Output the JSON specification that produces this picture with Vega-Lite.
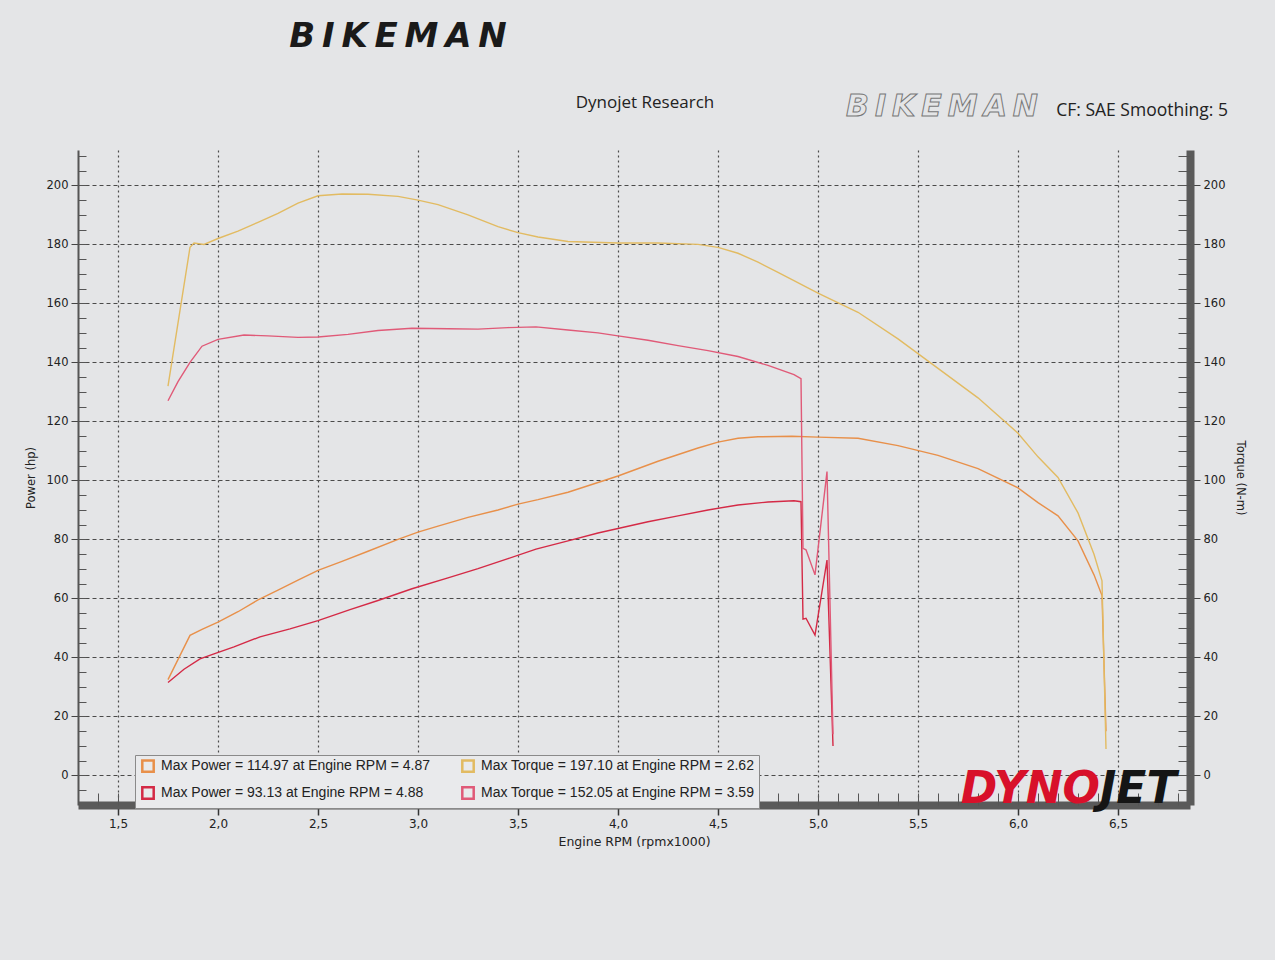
{
  "$schema": "https://vega.github.io/schema/vega-lite/v6.json",
  "width": 1112,
  "height": 655,
  "autosize": {"type": "none"},
  "padding": {"left": 78, "top": 150, "right": 85, "bottom": 155},
  "background": "#e4e5e7",
  "config": {
    "view": {"stroke": null},
    "axis": {"labelFont": "DejaVu Sans", "titleFont": "DejaVu Sans", "labelColor": "#222", "titleColor": "#222", "titleFontWeight": "normal", "grid": false},
    "legend": {"labelFont": "Liberation Sans", "labelFontSize": 14, "labelColor": "#222", "labelLimit": 0}
  },
  "data": {"values": [
    {"rpm":1.75,"v":32.5,"k":"P1"},{"rpm":1.86,"v":47.5,"k":"P1"},{"rpm":1.92,"v":49.5,"k":"P1"},{"rpm":2.0,"v":52,"k":"P1"},{"rpm":2.1,"v":55.5,"k":"P1"},{"rpm":2.2,"v":59.5,"k":"P1"},{"rpm":2.3,"v":62.8,"k":"P1"},{"rpm":2.4,"v":66.2,"k":"P1"},{"rpm":2.5,"v":69.5,"k":"P1"},{"rpm":2.62,"v":72.6,"k":"P1"},{"rpm":2.75,"v":76,"k":"P1"},{"rpm":2.9,"v":80,"k":"P1"},{"rpm":3.0,"v":82.5,"k":"P1"},{"rpm":3.1,"v":84.5,"k":"P1"},{"rpm":3.25,"v":87.5,"k":"P1"},{"rpm":3.4,"v":90,"k":"P1"},{"rpm":3.5,"v":92,"k":"P1"},{"rpm":3.6,"v":93.5,"k":"P1"},{"rpm":3.75,"v":96,"k":"P1"},{"rpm":4.0,"v":101.5,"k":"P1"},{"rpm":4.2,"v":106.5,"k":"P1"},{"rpm":4.4,"v":111,"k":"P1"},{"rpm":4.5,"v":113,"k":"P1"},{"rpm":4.6,"v":114.3,"k":"P1"},{"rpm":4.7,"v":114.8,"k":"P1"},{"rpm":4.8,"v":114.9,"k":"P1"},{"rpm":4.87,"v":114.97,"k":"P1"},{"rpm":5.0,"v":114.7,"k":"P1"},{"rpm":5.2,"v":114.3,"k":"P1"},{"rpm":5.4,"v":111.8,"k":"P1"},{"rpm":5.6,"v":108.5,"k":"P1"},{"rpm":5.8,"v":104,"k":"P1"},{"rpm":6.0,"v":97.5,"k":"P1"},{"rpm":6.1,"v":92.5,"k":"P1"},{"rpm":6.2,"v":88,"k":"P1"},{"rpm":6.3,"v":79.5,"k":"P1"},{"rpm":6.38,"v":68,"k":"P1"},{"rpm":6.42,"v":61,"k":"P1"},{"rpm":6.44,"v":15,"k":"P1"},
    {"rpm":1.75,"v":132,"k":"T1"},{"rpm":1.86,"v":179,"k":"T1"},{"rpm":1.88,"v":180.5,"k":"T1"},{"rpm":1.93,"v":180,"k":"T1"},{"rpm":2.0,"v":182,"k":"T1"},{"rpm":2.1,"v":184.5,"k":"T1"},{"rpm":2.2,"v":187.5,"k":"T1"},{"rpm":2.3,"v":190.5,"k":"T1"},{"rpm":2.4,"v":194,"k":"T1"},{"rpm":2.5,"v":196.5,"k":"T1"},{"rpm":2.62,"v":197.1,"k":"T1"},{"rpm":2.75,"v":197,"k":"T1"},{"rpm":2.9,"v":196.3,"k":"T1"},{"rpm":3.0,"v":195,"k":"T1"},{"rpm":3.1,"v":193.5,"k":"T1"},{"rpm":3.25,"v":190,"k":"T1"},{"rpm":3.4,"v":186,"k":"T1"},{"rpm":3.5,"v":184,"k":"T1"},{"rpm":3.6,"v":182.5,"k":"T1"},{"rpm":3.75,"v":181,"k":"T1"},{"rpm":4.0,"v":180.5,"k":"T1"},{"rpm":4.2,"v":180.5,"k":"T1"},{"rpm":4.4,"v":180,"k":"T1"},{"rpm":4.5,"v":179,"k":"T1"},{"rpm":4.6,"v":177,"k":"T1"},{"rpm":4.7,"v":174,"k":"T1"},{"rpm":4.8,"v":170.5,"k":"T1"},{"rpm":4.87,"v":168.1,"k":"T1"},{"rpm":5.0,"v":163.5,"k":"T1"},{"rpm":5.2,"v":157,"k":"T1"},{"rpm":5.4,"v":148,"k":"T1"},{"rpm":5.6,"v":138,"k":"T1"},{"rpm":5.8,"v":128,"k":"T1"},{"rpm":6.0,"v":116,"k":"T1"},{"rpm":6.1,"v":108,"k":"T1"},{"rpm":6.2,"v":101,"k":"T1"},{"rpm":6.3,"v":89,"k":"T1"},{"rpm":6.38,"v":75,"k":"T1"},{"rpm":6.42,"v":66,"k":"T1"},{"rpm":6.44,"v":9,"k":"T1"},
    {"rpm":1.75,"v":31.5,"k":"P2"},{"rpm":1.83,"v":36,"k":"P2"},{"rpm":1.91,"v":39.5,"k":"P2"},{"rpm":1.98,"v":41.2,"k":"P2"},{"rpm":2.08,"v":43.6,"k":"P2"},{"rpm":2.21,"v":47,"k":"P2"},{"rpm":2.36,"v":49.7,"k":"P2"},{"rpm":2.5,"v":52.5,"k":"P2"},{"rpm":2.66,"v":56.2,"k":"P2"},{"rpm":2.8,"v":59.3,"k":"P2"},{"rpm":2.97,"v":63.3,"k":"P2"},{"rpm":3.15,"v":67,"k":"P2"},{"rpm":3.3,"v":70.1,"k":"P2"},{"rpm":3.45,"v":73.5,"k":"P2"},{"rpm":3.59,"v":76.7,"k":"P2"},{"rpm":3.75,"v":79.5,"k":"P2"},{"rpm":3.9,"v":82.2,"k":"P2"},{"rpm":4.0,"v":83.7,"k":"P2"},{"rpm":4.15,"v":86,"k":"P2"},{"rpm":4.3,"v":88,"k":"P2"},{"rpm":4.45,"v":90,"k":"P2"},{"rpm":4.6,"v":91.7,"k":"P2"},{"rpm":4.75,"v":92.7,"k":"P2"},{"rpm":4.88,"v":93.13,"k":"P2"},{"rpm":4.915,"v":92.8,"k":"P2"},{"rpm":4.925,"v":53,"k":"P2"},{"rpm":4.94,"v":53.3,"k":"P2"},{"rpm":4.985,"v":47.6,"k":"P2"},{"rpm":5.045,"v":73,"k":"P2"},{"rpm":5.075,"v":10,"k":"P2"},
    {"rpm":1.75,"v":127,"k":"T2"},{"rpm":1.8,"v":133.5,"k":"T2"},{"rpm":1.86,"v":140,"k":"T2"},{"rpm":1.92,"v":145.5,"k":"T2"},{"rpm":2.0,"v":147.8,"k":"T2"},{"rpm":2.13,"v":149.3,"k":"T2"},{"rpm":2.25,"v":149,"k":"T2"},{"rpm":2.4,"v":148.5,"k":"T2"},{"rpm":2.5,"v":148.6,"k":"T2"},{"rpm":2.65,"v":149.5,"k":"T2"},{"rpm":2.8,"v":150.8,"k":"T2"},{"rpm":2.97,"v":151.6,"k":"T2"},{"rpm":3.15,"v":151.4,"k":"T2"},{"rpm":3.3,"v":151.3,"k":"T2"},{"rpm":3.45,"v":151.8,"k":"T2"},{"rpm":3.59,"v":152.05,"k":"T2"},{"rpm":3.75,"v":151,"k":"T2"},{"rpm":3.9,"v":150,"k":"T2"},{"rpm":4.0,"v":149,"k":"T2"},{"rpm":4.15,"v":147.5,"k":"T2"},{"rpm":4.3,"v":145.7,"k":"T2"},{"rpm":4.45,"v":144,"k":"T2"},{"rpm":4.6,"v":142,"k":"T2"},{"rpm":4.75,"v":139,"k":"T2"},{"rpm":4.88,"v":135.9,"k":"T2"},{"rpm":4.915,"v":134.5,"k":"T2"},{"rpm":4.925,"v":77,"k":"T2"},{"rpm":4.94,"v":76.5,"k":"T2"},{"rpm":4.985,"v":68,"k":"T2"},{"rpm":5.045,"v":103,"k":"T2"},{"rpm":5.075,"v":14,"k":"T2"}
  ]},
  "resolve": {"scale": {"y": "independent"}, "axis": {"x": "independent", "y": "independent"}},
  "layer": [
    {
      "transform": [{"filter": {"field": "k", "oneOf": ["P1", "P2"]}}],
      "mark": {"type": "line", "strokeWidth": 1.4},
      "encoding": {
        "x": {"field": "rpm", "type": "quantitative", "scale": {"domain": [1.3, 6.86], "nice": false, "zero": false},
          "axis": {"orient": "bottom", "values": [1.5, 2, 2.5, 3, 3.5, 4, 4.5, 5, 5.5, 6, 6.5], "labelExpr": "replace(format(datum.value, '.1f'), '.', ',')", "title": "Engine RPM (rpmx1000)", "grid": true, "gridDash": [2, 3], "gridColor": "#4a4a4a", "gridWidth": 1.2, "domainColor": "#5a5a5a", "domainWidth": 8, "tickColor": "#333", "tickSize": 10, "tickWidth": 1.5, "labelPadding": 3, "labelFontSize": 12, "titleFontSize": 12.5, "titlePadding": 6}},
        "y": {"field": "v", "type": "quantitative", "scale": {"domain": [-10, 212], "nice": false, "zero": false},
          "axis": {"orient": "left", "values": [0, 20, 40, 60, 80, 100, 120, 140, 160, 180, 200], "title": "Power (hp)", "grid": true, "gridDash": [4, 3], "gridColor": "#4a4a4a", "gridWidth": 1.2, "domainColor": "#555", "domainWidth": 2, "tickColor": "#444", "tickSize": 7, "labelPadding": 3, "labelFontSize": 11.5, "titleFontSize": 11.5, "titlePadding": 10}},
        "color": {"field": "k", "type": "nominal",
          "scale": {"domain": ["P1", "T1", "P2", "T2"], "range": ["#e8904a", "#e2bb62", "#d42a46", "#e05a78"]},
          "legend": {"title": null, "orient": "none", "legendX": 57, "legendY": 605, "direction": "horizontal", "columns": 2, "columnPadding": 26, "rowPadding": 5, "symbolType": "square", "symbolSize": 130, "symbolStrokeWidth": 2.5, "symbolOffset": 2, "labelOffset": 6, "labelLimit": 0, "fillColor": "#e9eaec", "strokeColor": "#8a8a8a", "padding": 4,
            "labelExpr": "datum.label == 'P1' ? 'Max Power = 114.97 at Engine RPM = 4.87' : datum.label == 'T1' ? 'Max Torque = 197.10 at Engine RPM = 2.62' : datum.label == 'P2' ? 'Max Power = 93.13 at Engine RPM = 4.88' : 'Max Torque = 152.05 at Engine RPM = 3.59'"}}
      }
    },
    {
      "transform": [{"filter": {"field": "k", "oneOf": ["T1", "T2"]}}],
      "mark": {"type": "line", "strokeWidth": 1.4},
      "encoding": {
        "x": {"field": "rpm", "type": "quantitative", "scale": {"domain": [1.3, 6.86], "nice": false, "zero": false}, "axis": null},
        "y": {"field": "v", "type": "quantitative", "scale": {"domain": [-10, 212], "nice": false, "zero": false},
          "axis": {"orient": "right", "values": [0, 20, 40, 60, 80, 100, 120, 140, 160, 180, 200], "title": "Torque (N-m)", "grid": false, "domainColor": "#5a5a5a", "domainWidth": 8, "tickColor": "#444", "tickSize": 10, "labelPadding": 3, "labelFontSize": 11.5, "titleFontSize": 11.5, "titlePadding": 10}},
        "color": {"field": "k", "type": "nominal"}
      }
    },
    {
      "data": {"values": [{}]},
      "mark": {"type": "text", "text": "Dynojet Research", "font": "Open Sans", "fontSize": 17, "color": "#222", "align": "center", "baseline": "middle"},
      "encoding": {
        "x": {"datum": 4.135, "type": "quantitative", "scale": {"domain": [1.3, 6.86], "nice": false, "zero": false},
          "axis": {"orient": "bottom", "values": [1.4,1.5,1.6,1.7,1.8,1.9,2.0,2.1,2.2,2.3,2.4,2.5,2.6,2.7,2.8,2.9,3.0,3.1,3.2,3.3,3.4,3.5,3.6,3.7,3.8,3.9,4.0,4.1,4.2,4.3,4.4,4.5,4.6,4.7,4.8,4.9,5.0,5.1,5.2,5.3,5.4,5.5,5.6,5.7,5.8,5.9,6.0,6.1,6.2,6.3,6.4,6.5,6.6,6.7,6.8], "labels": false, "domain": false, "grid": false, "ticks": true, "tickSize": -12, "tickColor": "#555", "tickWidth": 1, "title": null}},
        "y": {"datum": 227.9, "type": "quantitative", "scale": {"domain": [-10, 212], "nice": false, "zero": false},
          "axis": {"orient": "left", "values": [-5,0,5,10,15,20,25,30,35,40,45,50,55,60,65,70,75,80,85,90,95,100,105,110,115,120,125,130,135,140,145,150,155,160,165,170,175,180,185,190,195,200,205,210], "labels": false, "domain": false, "grid": false, "ticks": true, "tickSize": -8, "tickColor": "#555", "title": null}}
      }
    },
    {
      "data": {"values": [{}]},
      "mark": {"type": "text", "text": "CF: SAE Smoothing: 5", "font": "Open Sans", "fontSize": 17.5, "color": "#222", "align": "right", "baseline": "middle"},
      "encoding": {
        "x": {"datum": 7.05, "type": "quantitative", "scale": {"domain": [1.3, 6.86], "nice": false, "zero": false}, "axis": null},
        "y": {"datum": 225.2, "type": "quantitative", "scale": {"domain": [-10, 212], "nice": false, "zero": false},
          "axis": {"orient": "right", "values": [-5,0,5,10,15,20,25,30,35,40,45,50,55,60,65,70,75,80,85,90,95,100,105,110,115,120,125,130,135,140,145,150,155,160,165,170,175,180,185,190,195,200,205,210], "labels": false, "domain": false, "grid": false, "ticks": true, "tickSize": -12, "tickColor": "#555", "title": null}}
      }
    },
    {
      "data": {"values": [{}]},
      "mark": {"type": "text", "text": "B\u2009I\u2009K\u2009E\u2009M\u2009A\u2009N", "font": "DejaVu Sans", "fontSize": 34, "fontWeight": "bold", "fontStyle": "italic", "color": "#1a1a1a", "align": "center", "baseline": "middle"},
      "encoding": {
        "x": {"datum": 2.9, "type": "quantitative", "scale": {"domain": [1.3, 6.86], "nice": false, "zero": false}, "axis": null},
        "y": {"datum": 250.3, "type": "quantitative", "scale": {"domain": [-10, 212], "nice": false, "zero": false}, "axis": null}
      }
    },
    {
      "data": {"values": [{}]},
      "mark": {"type": "text", "text": "B\u2009I\u2009K\u2009E\u2009M\u2009A\u2009N", "font": "DejaVu Sans", "fontSize": 30, "fontWeight": "bold", "fontStyle": "italic", "fill": "transparent", "stroke": "#777", "strokeWidth": 1, "align": "center", "baseline": "middle"},
      "encoding": {
        "x": {"datum": 5.62, "type": "quantitative", "scale": {"domain": [1.3, 6.86], "nice": false, "zero": false}, "axis": null},
        "y": {"datum": 226.6, "type": "quantitative", "scale": {"domain": [-10, 212], "nice": false, "zero": false}, "axis": null}
      }
    },
    {
      "data": {"values": [{}]},
      "mark": {"type": "text", "text": "DYNO", "font": "DejaVu Sans", "fontSize": 44, "fontWeight": "bold", "fontStyle": "italic", "color": "#d8102a", "align": "right", "baseline": "alphabetic"},
      "encoding": {
        "x": {"datum": 6.41, "type": "quantitative", "scale": {"domain": [1.3, 6.86], "nice": false, "zero": false}, "axis": null},
        "y": {"datum": -9.3, "type": "quantitative", "scale": {"domain": [-10, 212], "nice": false, "zero": false}, "axis": null}
      }
    },
    {
      "data": {"values": [{}]},
      "mark": {"type": "text", "text": "JET", "font": "DejaVu Sans", "fontSize": 44, "fontWeight": "bold", "fontStyle": "italic", "color": "#151515", "align": "left", "baseline": "alphabetic"},
      "encoding": {
        "x": {"datum": 6.41, "type": "quantitative", "scale": {"domain": [1.3, 6.86], "nice": false, "zero": false}, "axis": null},
        "y": {"datum": -9.3, "type": "quantitative", "scale": {"domain": [-10, 212], "nice": false, "zero": false}, "axis": null}
      }
    }
  ]
}
